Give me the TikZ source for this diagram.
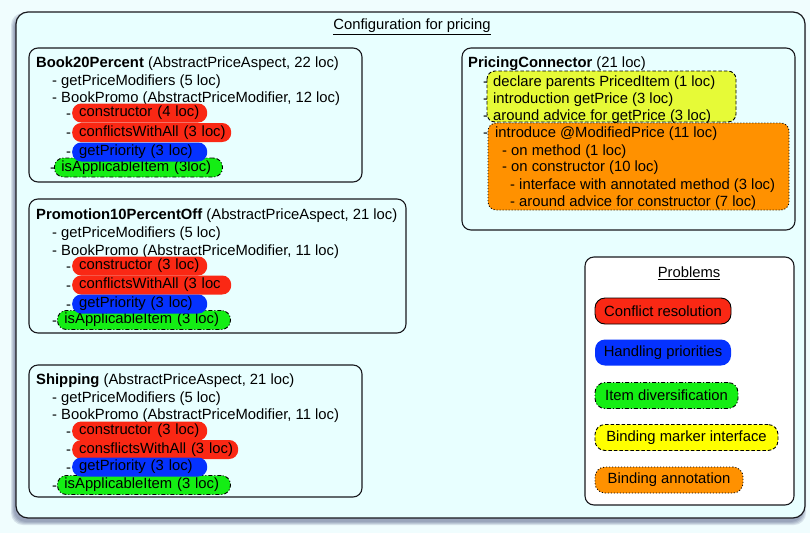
\documentclass[tikz,border=0pt]{standalone}
\usepackage{fontspec}
\setmainfont{Liberation Sans}
\definecolor{pagebg}{RGB}{240,253,254}
\definecolor{panelbg}{RGB}{232,255,255}
\definecolor{shadowc}{RGB}{40,50,100}
\definecolor{pred}{RGB}{250,40,20}
\definecolor{pblue}{RGB}{5,50,255}
\definecolor{pgreen}{RGB}{20,238,20}
\definecolor{pyellowg}{RGB}{230,250,55}
\definecolor{pyellow}{RGB}{255,255,0}
\definecolor{porange}{RGB}{255,145,0}
\definecolor{edge}{RGB}{25,25,30}
\tikzset{
  every node/.style={font=\fontsize{14.8}{18}\selectfont},
  ln/.style={anchor=base west, inner sep=0pt},
  panel/.style={draw=edge, line width=1.1pt, rounded corners=9pt},
  pill/.style={rectangle, rounded corners=9pt, minimum height=19pt, anchor=west,
    inner xsep=7pt, inner ysep=0pt, align=left, text height=10.5pt, text depth=3pt},
  redpill/.style={pill, fill=pred},
  bluepill/.style={pill, fill=pblue},
  greenpill/.style={pill, fill=pgreen, draw=black, line width=0.9pt,
    dash pattern=on 4pt off 2pt on 1pt off 2pt},
  legend/.style={rectangle, rounded corners=10pt, minimum height=26pt, inner sep=0pt},
  dashline/.style={dash pattern=on 3.5pt off 2pt},
  dotline/.style={dash pattern=on 1pt off 2pt},
}
\begin{document}
\begin{tikzpicture}[x=1pt,y=-1pt]
\useasboundingbox (0,0) rectangle (810,533);
\fill[pagebg] (0,0) rectangle (810,533);

% soft drop shadow of the outer frame
\foreach \e in {3,2,1,0}
  \fill[shadowc, opacity=0.13, rounded corners=12pt]
    (16-2-\e,12+4-\e) rectangle (805-2+\e,518+4+\e);

% outer frame
\draw[fill=panelbg, draw=edge, line width=1.2pt, rounded corners=12pt]
  (16,12) rectangle (805,518);
\node[anchor=center, inner sep=0pt] (title) at (412,27)
  {\underline{Configuration for pricing}};

% ---------- Book20Percent ----------
\draw[panel, fill=panelbg] (29,48) rectangle (362,182);
\node[ln] (b1t) at (36,67.5) {\textbf{Book20Percent} (AbstractPriceAspect, 22 loc)};
\node[ln] (b1a) at (52,85) {- getPriceModifiers (5 loc)};
\node[ln] (b1b) at (52,102.5) {- BookPromo (AbstractPriceModifier, 12 loc)};
\node[ln] (b1d1) at (66,118) {-};
\node[ln] (b1d2) at (66,137.5) {-};
\node[ln] (b1d3) at (66,156.5) {-};
\node[ln] (b1d4) at (50,172.5) {-};
\node[greenpill, text width=154pt] (b1g) at (54,167.5) {\mbox{isApplicableItem (3loc)}};
\node[redpill, text width=121pt] (b1c) at (72,113) {\mbox{constructor (4 loc)}};
\node[redpill, text width=145pt] (b1w) at (72,132.5) {\mbox{conflictsWithAll (3 loc)}};
\node[bluepill, text width=121pt] (b1p) at (72,152) {\mbox{getPriority (3 loc)}};

% ---------- Promotion10PercentOff ----------
\draw[panel, fill=panelbg] (29,199) rectangle (406,333);
\node[ln] (b2t) at (36,219) {\textbf{Promotion10PercentOff} (AbstractPriceAspect, 21 loc)};
\node[ln] (b2a) at (52,237) {- getPriceModifiers (5 loc)};
\node[ln] (b2b) at (52,255) {- BookPromo (AbstractPriceModifier, 11 loc)};
\node[ln] (b2d1) at (66,271) {-};
\node[ln] (b2d2) at (66,290) {-};
\node[ln] (b2d3) at (66,309) {-};
\node[ln] (b2d4) at (52,325) {-};
\node[greenpill, text width=159pt] (b2g) at (57,320) {\mbox{isApplicableItem (3 loc)}};
\node[redpill, text width=121pt] (b2c) at (72,266) {\mbox{constructor (3 loc)}};
\node[redpill, text width=145pt] (b2w) at (72,285) {\mbox{conflictsWithAll (3 loc}};
\node[bluepill, text width=121pt] (b2p) at (72,304) {\mbox{getPriority (3 loc)}};

% ---------- Shipping ----------
\draw[panel, fill=panelbg] (29,365) rectangle (362,497);
\node[ln] (b3t) at (36,384) {\textbf{Shipping} (AbstractPriceAspect, 21 loc)};
\node[ln] (b3a) at (52,402) {- getPriceModifiers (5 loc)};
\node[ln] (b3b) at (52,419) {- BookPromo (AbstractPriceModifier, 11 loc)};
\node[ln] (b3d1) at (66,436) {-};
\node[ln] (b3d2) at (66,454.5) {-};
\node[ln] (b3d3) at (66,472) {-};
\node[ln] (b3d4) at (52,490) {-};
\node[greenpill, text width=159pt] (b3g) at (57,485) {\mbox{isApplicableItem (3 loc)}};
\node[redpill, text width=121pt] (b3c) at (72,431) {\mbox{constructor (3 loc)}};
\node[redpill, text width=152pt] (b3w) at (72,449.5) {\mbox{consflictsWithAll (3 loc)}};
\node[bluepill, text width=121pt] (b3p) at (72,467) {\mbox{getPriority (3 loc)}};

% ---------- PricingConnector ----------
\draw[panel, fill=panelbg] (462,48) rectangle (795,230);
\node[ln] (pct) at (468,67.5) {\textbf{PricingConnector} (21 loc)};
\node[ln] (pcd1) at (483,86) {-};
\node[ln] (pcd2) at (483,103) {-};
\node[ln] (pcd3) at (483,120) {-};
\node[ln] (pcd4) at (483,137) {-};
\draw[fill=pyellowg, draw=black, line width=0.9pt, dashline, rounded corners=8pt]
  (487,71) rectangle (736,122);
\node[ln] (pc1) at (493,86) {declare parents PricedItem (1 loc)};
\node[ln] (pc2) at (493,103) {introduction getPrice (3 loc)};
\node[ln] (pc3) at (493,120) {around advice for getPrice (3 loc)};
\draw[fill=porange, draw=black, line width=0.9pt, dotline, rounded corners=8pt]
  (488,123) rectangle (789,210);
\node[ln] (pc4) at (495,137) {introduce @ModifiedPrice (11 loc)};
\node[ln] (pc5) at (502,155) {- on method (1 loc)};
\node[ln] (pc6) at (502,171.5) {- on constructor (10 loc)};
\node[ln] (pc7) at (510,189) {- interface with annotated method (3 loc)};
\node[ln] (pc8) at (510,206) {- around advice for constructor (7 loc)};

% ---------- Problems legend ----------
\draw[panel, fill=white] (585,257) rectangle (794,505);
\node[inner sep=0pt] (probt) at (689,273) {\underline{Problems}};
\node[legend, fill=pred, draw=black, line width=0.9pt, minimum width=136pt] (lg1) at (663,311) {Conflict resolution};
\node[legend, fill=pblue, minimum width=136pt] (lg2) at (663,352.5) {Handling priorities};
\node[legend, fill=pgreen, draw=black, line width=0.9pt, dash pattern=on 4pt off 2pt on 1pt off 2pt, minimum width=143pt] (lg3) at (666.5,395.5) {Item diversification};
\node[legend, fill=pyellow, draw=black, line width=0.9pt, dashline, minimum width=183pt] (lg4) at (686.5,437.5) {Binding marker interface};
\node[legend, fill=porange, draw=black, line width=0.9pt, dotline, minimum width=148pt] (lg5) at (669,480) {Binding annotation};
\end{tikzpicture}
\end{document}
